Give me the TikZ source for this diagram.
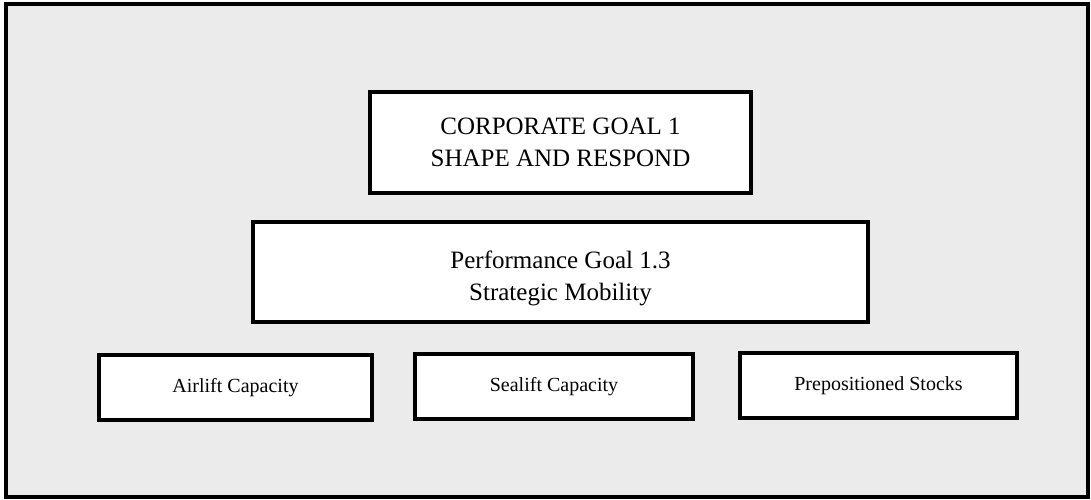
\documentclass[tikz,border=0pt]{standalone}
\usepackage{fontspec}
\setmainfont{Liberation Serif}
\begin{document}
\begin{tikzpicture}[x=1pt,y=-1pt,
  box/.style={draw=black, line width=3.2pt, fill=white, rectangle, inner sep=0pt, align=center},
  frame/.style={draw=black, line width=3.5pt, fill=black!8}]
\useasboundingbox (0,0) rectangle (1091,500);
\path[frame] (6,4) rectangle (1088,497);
\node[box, minimum width=381pt, minimum height=101pt, font=\fontsize{25}{32}\selectfont] (corp) at (560.5,142.5) {CORPORATE GOAL 1\\SHAPE AND RESPOND};
\node[box, minimum width=615pt, minimum height=100pt, font=\fontsize{25}{31}\selectfont] (perf) at (560.5,272) {\raisebox{-6pt}[\height][\depth]{\begin{tabular}{@{}c@{}}Performance Goal 1.3\\[1pt]Strategic Mobility\end{tabular}}};
\node[box, minimum width=273pt, minimum height=65pt, font=\fontsize{20}{24}\selectfont] (air) at (235.5,387.5) {Airlift Capacity};
\node[box, minimum width=278pt, minimum height=65pt, font=\fontsize{20}{24}\selectfont] (sea) at (554,386.5) {Sealift Capacity};
\node[box, minimum width=277pt, minimum height=65pt, font=\fontsize{20}{24}\selectfont] (prep) at (878.5,385.5) {Prepositioned Stocks};
\end{tikzpicture}
\end{document}
